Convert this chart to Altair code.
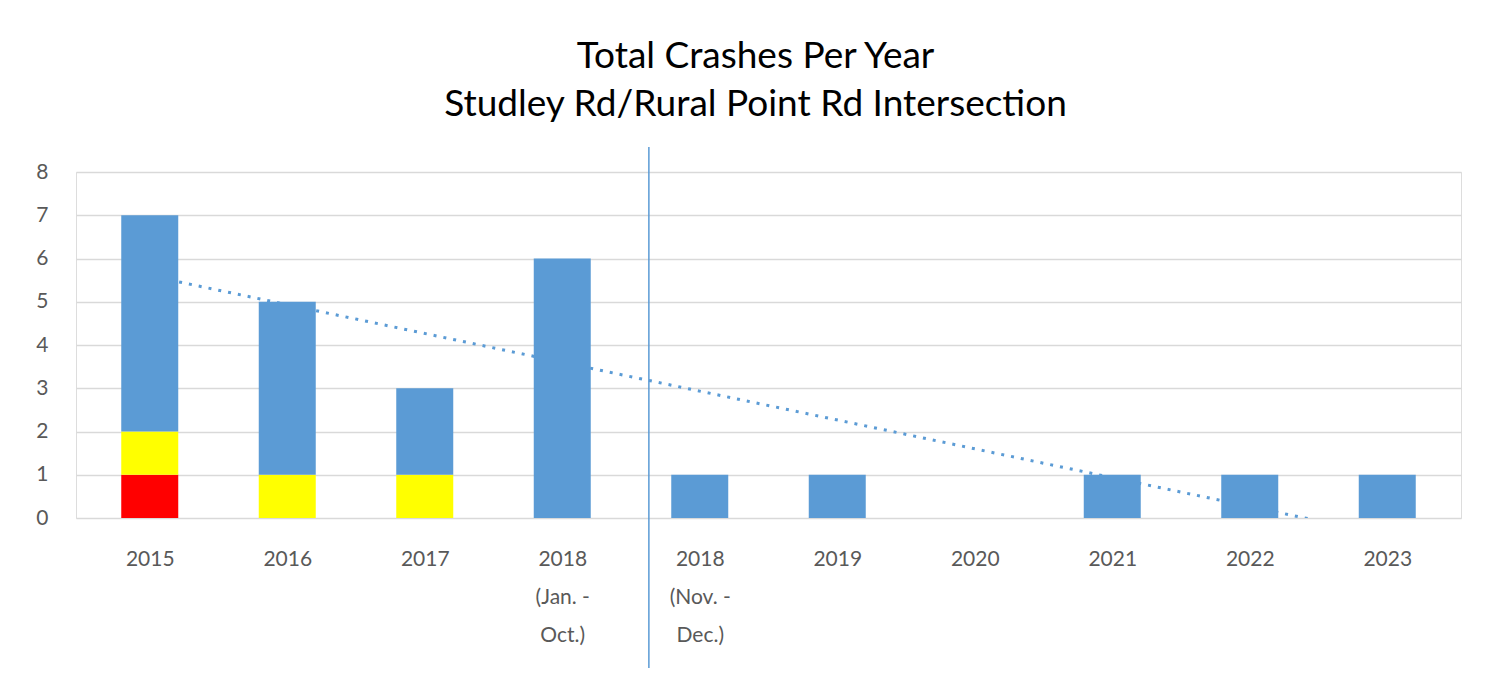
import altair as alt
import pandas as pd

# Category labels (multi-line), one per bar position
categories = [
    ["2015"], ["2016"], ["2017"], ["2018", "(Jan. -", "Oct.)"],
    ["2018", "(Nov. -", "Dec.)"], ["2019"], ["2020"], ["2021"], ["2022"], ["2023"],
]
# Crash counts per severity (stacked bottom to top)
fatal = [1, 0, 0, 0, 0, 0, 0, 0, 0, 0]
injury = [1, 1, 1, 0, 0, 0, 0, 0, 0, 0]
pdo = [5, 4, 2, 6, 1, 1, 0, 1, 1, 1]

types = ["Fatal", "Injury", "Property Damage Only"]
colors = ["#FF0000", "#FFFF00", "#5B9BD5"]

rows = []
for i in range(len(categories)):
    for k, (t, series) in enumerate(zip(types, [fatal, injury, pdo])):
        rows.append({"idx": i + 1, "type": t, "value": series[i], "ord": k})
long_df = pd.DataFrame(rows)
totals = pd.DataFrame({
    "idx": list(range(1, len(categories) + 1)),
    "total": [a + b + c for a, b, c in zip(fatal, injury, pdo)],
})

label_js = "[" + ",".join(
    "[" + ",".join("'" + s + "'" for s in lines) + "]" for lines in categories
) + "][datum.value - 1]"

FONT = "Lato"

x_scale = alt.Scale(domain=[0.5, len(categories) + 0.5], nice=False, zero=False)
y_scale = alt.Scale(domain=[0, 8], nice=False)

x_axis = alt.Axis(
    values=list(range(1, len(categories) + 1)), labelExpr=label_js, title=None,
    grid=False, ticks=False, domain=False, labelFontSize=21, labelColor="#595959",
    labelFont=FONT, labelPadding=30, labelLineHeight=38, labelAngle=0,
)
y_axis = alt.Axis(
    values=list(range(0, 9)), title=None, ticks=False, domain=False,
    labelFontSize=21, labelColor="#595959", labelFont=FONT, labelPadding=28,
    gridColor="#D9D9D9", gridWidth=1.5,
)

trend = alt.Chart(totals).transform_regression(
    "idx", "total", extent=[1, len(categories)]
).mark_line(
    clip=True, color="#5B9BD5", strokeWidth=3, strokeDash=[3, 7]
).encode(
    x=alt.X("idx:Q", scale=x_scale, axis=x_axis),
    y=alt.Y("total:Q", scale=y_scale, axis=y_axis),
)

bars = alt.Chart(long_df).mark_bar(size=57).encode(
    x=alt.X("idx:Q", scale=x_scale, axis=x_axis),
    y=alt.Y("value:Q", scale=y_scale, axis=y_axis, stack="zero"),
    color=alt.Color("type:N", scale=alt.Scale(domain=types, range=colors), legend=None),
    order=alt.Order("ord:Q"),
)

rule = alt.Chart(pd.DataFrame({"a": [0]})).mark_rule(
    color="#5B9BD5", strokeWidth=1.5
).encode(
    x=alt.datum(4.63), y=alt.value(-25), y2=alt.value(496)
)

chart = alt.layer(trend, bars, rule).properties(
    width=1385, height=346,
    autosize=alt.AutoSizeParams(type="none"),
    padding={"left": 68, "top": 164, "right": 20, "bottom": 150},
    title=alt.TitleParams(
        ["Total Crashes Per Year", "Studley Rd/Rural Point Rd Intersection"],
        fontSize=37, font=FONT, fontWeight="normal", color="#000000",
        lineHeight=48, offset=22, dx=-13, anchor="middle",
    ),
).configure_view(strokeWidth=0).configure(background="white")

chart.save("out.html", embed_options={"renderer": "svg", "actions": False})
